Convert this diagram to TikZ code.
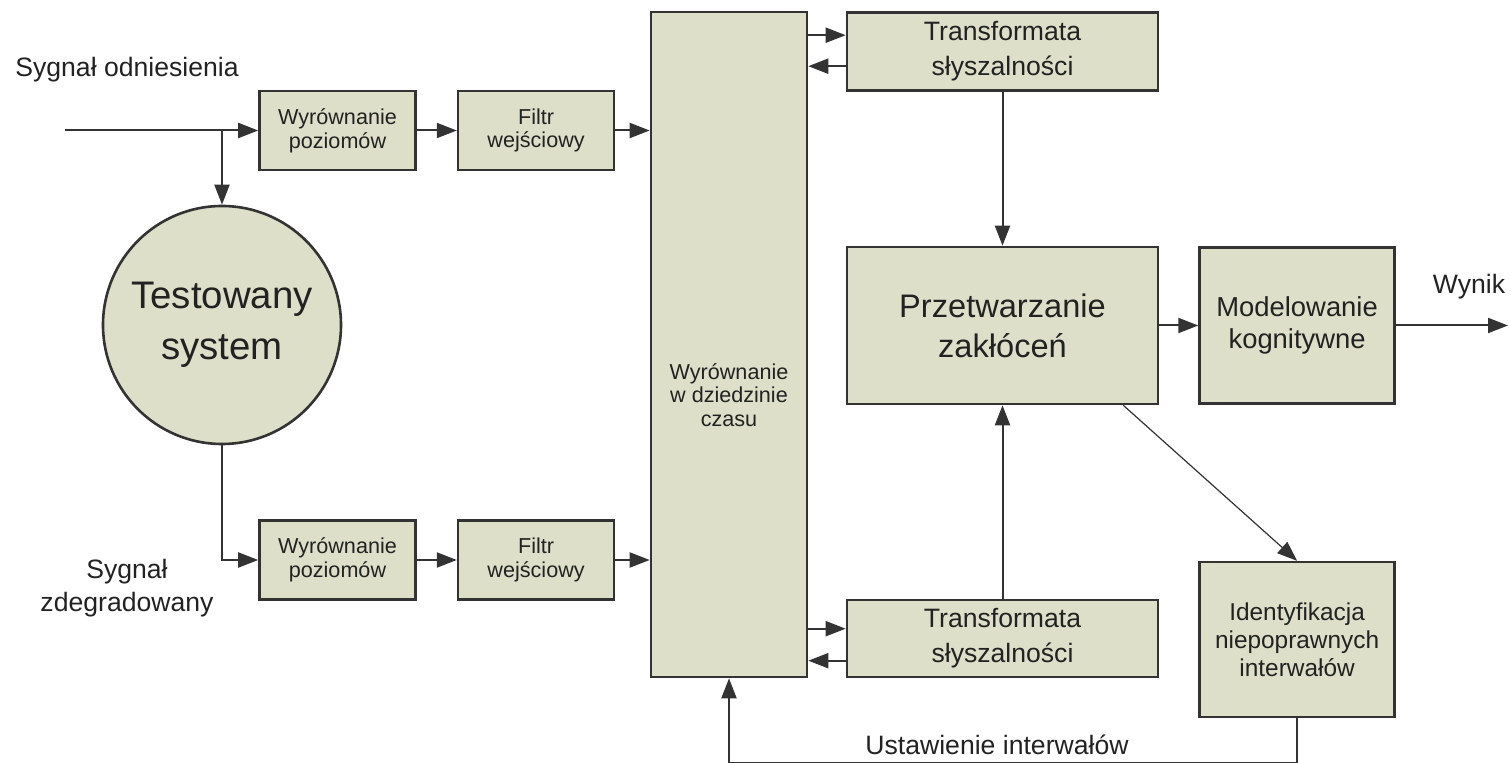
\documentclass[tikz,border=0pt]{standalone}
\usepackage{fontspec}
\setmainfont{Liberation Sans}
\usetikzlibrary{arrows.meta,positioning}
\definecolor{boxfill}{HTML}{DDDFC9}
\definecolor{edge}{HTML}{333333}
\definecolor{ink}{HTML}{222222}
\newcommand\fsz[2]{\fontsize{#1}{#2}\selectfont}
\tikzset{box/.style={draw=edge,fill=boxfill,line width=1.3pt,inner sep=0pt,
  align=center,text=ink},
  smallbox/.style={box,minimum width=78pt,minimum height=39.5pt,font=\fsz{10.8pt}{11.8pt}},
  widebox/.style={box,minimum width=155.5pt,minimum height=39pt,font=\fsz{13.3pt}{17.5pt}},
  sidebox/.style={box,minimum width=97.5pt,minimum height=78pt},
  lbl/.style={text=ink,align=center,inner sep=0pt,font=\fsz{13.3pt}{16.5pt}},
  arrow/.style={-{Triangle[length=10pt,width=7.5pt]},line width=1pt,draw=edge}}

\begin{document}
\begin{tikzpicture}[x=0.5pt,y=-0.5pt,node distance=20pt]
\useasboundingbox (0,0) rectangle (1511,763);
% reference path
\node[smallbox] (lvl1) at (337.5,130.5) {Wyrównanie\\poziomów};
\node[smallbox,right=of lvl1] (filt1) {Filtr\\wejściowy};
% degraded path
\node[smallbox] (lvl2) at (337.5,560) {Wyrównanie\\poziomów};
\node[smallbox,right=of lvl2] (filt2) {Filtr\\wejściowy};
\node[box,circle,minimum size=119pt,font=\fsz{19.2pt}{25.5pt}] (sut) at (222,325) {Testowany\\system};
% time alignment
\node[box,minimum width=78pt,minimum height=332.5pt] (align) at (729,344.5) {};
\node[lbl,font=\fsz{10.8pt}{11.8pt}] (aligntxt) at (729,395) {Wyrównanie\\w dziedzinie\\czasu};
\node[widebox] (hear1) at (1002.5,51.5) {Transformata\\słyszalności};
\node[widebox,minimum height=38.5pt] (hear2) at (1002.5,638.5) {Transformata\\słyszalności};
\node[box,minimum width=155.5pt,minimum height=78.5pt,font=\fsz{16.3pt}{20pt}] (dist) at (1002.5,325.5) {Przetwarzanie\\zakłóceń};
\node[sidebox,right=19.5pt of dist,font=\fsz{13.7pt}{16pt}] (model) {Modelowanie\\kognitywne};
\node[sidebox,below=78pt of model,minimum height=77.5pt,font=\fsz{12.2pt}{14pt}] (badint) {Identyfikacja\\niepoprawnych\\interwałów};
% labels
\node[lbl] (refname) at (127,70) {Sygnał odniesienia};
\node[lbl] (degname) at (127,588) {Sygnał\\zdegradowany};
\node[lbl] (outname) at (1469,287) {Wynik};
\node[lbl] (setname) at (997,745) {Ustawienie interwałów};
\coordinate (in) at (65,130.5);
\coordinate (out) at (1508,325.5);
\coordinate (h1a) at ([yshift=-12pt]hear1.north west);
\coordinate (h1b) at ([yshift=-27.5pt]hear1.north west);
\coordinate (h2a) at ([yshift=-15pt]hear2.north west);
\coordinate (h2b) at ([yshift=-31pt]hear2.north west);
% connectors
\draw[arrow] (in) -- (lvl1);
\draw[arrow] (in -| sut) -- (sut);
\draw[arrow] (sut) |- (lvl2);
\draw[arrow] (lvl1) -- (filt1);\draw[arrow] (lvl2) -- (filt2);
\draw[arrow] (filt1) -- (filt1 -| align.west);
\draw[arrow] (filt2) -- (filt2 -| align.west);
\draw[arrow] (h1a -| align.east) -- (h1a);\draw[arrow] (h1b) -- (h1b -| align.east);
\draw[arrow] (h2a -| align.east) -- (h2a);\draw[arrow] (h2b) -- (h2b -| align.east);
\draw[arrow] (hear1) -- (dist);\draw[arrow] (hear2) -- (dist);
\draw[arrow] (dist) -- (model);\draw[arrow] (model) -- (out);
\draw[arrow,line width=0.6pt] ([xshift=-18pt]dist.south east) -- (badint.north);
\draw[arrow] (badint.south) -- ++(0,45) -| (align.south);
\end{tikzpicture}
\end{document}
